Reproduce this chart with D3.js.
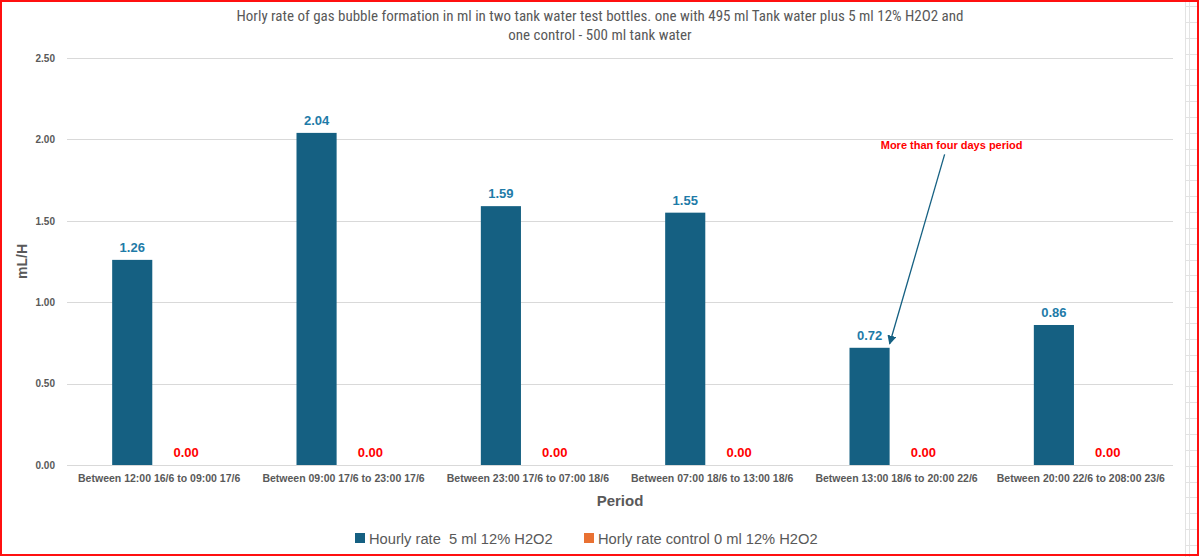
<!DOCTYPE html>
<html>
<head>
<meta charset="utf-8">
<script src="https://cdn.jsdelivr.net/npm/d3@7"></script>
<style>
  body { margin: 0; background: #fff; }
  svg { display: block; font-family: "Liberation Sans Narrow", "Roboto Condensed", "Liberation Sans", sans-serif; }
</style>
</head>
<body>
<div id="chart"></div>
<script>
/* chart data */
var periods = [
    "Between 12:00 16/6 to 09:00 17/6",
    "Between 09:00 17/6 to 23:00 17/6",
    "Between 23:00 17/6 to 07:00 18/6",
    "Between 07:00 18/6 to 13:00 18/6",
    "Between 13:00 18/6 to 20:00 22/6",
    "Between 20:00 22/6 to 208:00 23/6"
];
var seriesNames = ["Hourly rate  5 ml 12% H2O2", "Horly rate control 0 ml 12% H2O2"];
var treatedRate = [1.26, 2.04, 1.59, 1.55, 0.72, 0.86];
var controlRate = [0, 0, 0, 0, 0, 0];
var yTicks = [0, 0.5, 1, 1.5, 2, 2.5];

var W = 1200, H = 557;
var margin = {top: 58, right: 27, bottom: 92, left: 67};
var width = 1173 - margin.left,
    height = 465 - margin.top;

var colors = ["#156082", "#E97132"];

var svg = d3.select("#chart").append("svg")
    .attr("width", W)
    .attr("height", H);

// spreadsheet cells peeking out on the right
var cells = svg.append("g").attr("stroke", "#e3e3e3").attr("stroke-width", 1);
cells.append("line").attr("x1", 1185.5).attr("x2", 1185.5).attr("y1", 0).attr("y2", H);
cells.append("line").attr("x1", 1189.5).attr("x2", 1189.5).attr("y1", 0).attr("y2", H);
d3.range(6, H, 15.85).forEach(function(yy) {
    cells.append("line").attr("x1", 1186).attr("x2", 1198).attr("y1", Math.round(yy) + 0.5).attr("y2", Math.round(yy) + 0.5);
});

// title
var title = svg.append("text")
    .attr("text-anchor", "middle")
    .attr("fill", "#595959")
    .style("font-size", "15px");
title.append("tspan").attr("x", 600).attr("y", 21)
    .text("Horly rate of gas bubble formation in ml in two tank water test bottles. one with 495 ml Tank water plus 5 ml 12% H2O2 and");
title.append("tspan").attr("x", 600).attr("y", 40)
    .text("one control - 500 ml tank water");

var g = svg.append("g")
    .attr("transform", "translate(" + margin.left + "," + margin.top + ")");

var y = d3.scaleLinear().domain([0, 2.5]).range([height, 0]);
var x0 = d3.scaleBand().domain(periods).range([0, width]);
var x1 = d3.scaleBand().domain([0, 1]).range([x0.bandwidth() / 2 - 47, x0.bandwidth() / 2 + 47]).paddingInner(12 / 94 * 2);

// gridlines
g.append("g")
    .selectAll("line")
    .data(yTicks)
    .enter().append("line")
    .attr("x1", 0).attr("x2", width)
    .attr("y1", function(d) { return Math.round(y(d)) + 0.5; })
    .attr("y2", function(d) { return Math.round(y(d)) + 0.5; })
    .attr("stroke", "#d9d9d9")
    .attr("stroke-width", 1);

// y axis labels
var yAxis = d3.axisLeft(y).tickValues(yTicks).tickSize(0).tickPadding(12).tickFormat(d3.format(".2f"));
var gy = g.append("g").call(yAxis);
gy.select(".domain").remove();
gy.selectAll("text")
    .attr("fill", "#595959")
    .style("font-size", "10px")
    .style("font-weight", "bold")
    .style("font-family", "'Liberation Sans', sans-serif");

// x axis labels
var xAxis = d3.axisBottom(x0).tickSize(0).tickPadding(10);
var gx = g.append("g").attr("transform", "translate(0," + height + ")").call(xAxis);
gx.select(".domain").remove();
gx.selectAll("text")
    .attr("fill", "#595959")
    .style("font-size", "10.5px")
    .style("font-weight", "bold");

// bars
var rows = periods.map(function(p, i) { return {period: p, vals: [treatedRate[i], controlRate[i]]}; });
var groups = g.selectAll(".grp")
    .data(rows)
    .enter().append("g")
    .attr("class", "grp")
    .attr("transform", function(d) { return "translate(" + x0(d.period) + ",0)"; });

groups.selectAll("rect")
    .data(function(d) { return d.vals.map(function(v, s) { return {s: s, v: v}; }); })
    .enter().append("rect")
    .attr("x", function(d) { return x1(d.s); })
    .attr("width", x1.bandwidth())
    .attr("y", function(d) { return y(d.v); })
    .attr("height", function(d) { return height - y(d.v); })
    .attr("fill", function(d) { return colors[d.s]; });

groups.selectAll(".lbl")
    .data(function(d) { return d.vals.map(function(v, s) { return {s: s, v: v}; }); })
    .enter().append("text")
    .attr("class", "lbl")
    .attr("x", function(d) { return x1(d.s) + x1.bandwidth() / 2; })
    .attr("y", function(d) { return y(d.v) - 8; })
    .attr("text-anchor", "middle")
    .attr("fill", function(d) { return d.s === 0 ? "#1E7BA8" : "#FF0000"; })
    .style("font-size", "13px")
    .style("font-weight", "bold")
    .style("font-family", "'Liberation Sans', sans-serif")
    .text(function(d) { return d3.format(".2f")(d.v); });

// annotation with arrow
var defs = svg.append("defs");
defs.append("marker")
    .attr("id", "arrow")
    .attr("viewBox", "0 0 10 10")
    .attr("refX", 9).attr("refY", 5)
    .attr("markerWidth", 7).attr("markerHeight", 7)
    .attr("orient", "auto")
    .append("path")
    .attr("d", "M0,0 L10,5 L0,10 z")
    .attr("fill", "#156082");

var annIdx = 4;
var annX = x0(periods[annIdx]) + x1(0) + x1.bandwidth();
g.append("text")
    .attr("x", annX + 62)
    .attr("y", y(2.0) + 10)
    .attr("text-anchor", "middle")
    .attr("fill", "#FF0000")
    .style("font-size", "11px")
    .style("font-weight", "bold")
    .style("font-family", "'Liberation Sans', sans-serif")
    .text("More than four days period");
g.append("line")
    .attr("x1", annX + 55)
    .attr("y1", y(2.0) + 15)
    .attr("x2", annX)
    .attr("y2", y(treatedRate[annIdx]) - 4)
    .attr("stroke", "#156082")
    .attr("stroke-width", 1.3)
    .attr("marker-end", "url(#arrow)");

// axis titles
svg.append("text")
    .attr("transform", "translate(27," + (margin.top + height / 2) + ") rotate(-90)")
    .attr("text-anchor", "middle")
    .attr("fill", "#595959")
    .style("font-size", "14px")
    .style("font-weight", "bold")
    .style("font-family", "'Liberation Sans', sans-serif")
    .text("mL/H");
svg.append("text")
    .attr("x", 620)
    .attr("y", 506)
    .attr("text-anchor", "middle")
    .attr("fill", "#595959")
    .style("font-size", "15px")
    .style("font-weight", "bold")
    .style("font-family", "'Liberation Sans', sans-serif")
    .text("Period");

// legend
var legendX = [355, 584];
var legend = svg.selectAll(".leg")
    .data(seriesNames)
    .enter().append("g")
    .attr("class", "leg")
    .attr("transform", function(d, i) { return "translate(" + legendX[i] + ",538)"; });
legend.append("rect")
    .attr("x", 0).attr("y", -5)
    .attr("width", 10).attr("height", 10)
    .attr("fill", function(d, i) { return colors[i]; });
legend.append("text")
    .attr("x", 14).attr("y", 6)
    .attr("fill", "#595959")
    .style("white-space", "pre")
    .style("font-size", "14.7px")
    .style("font-family", "'Liberation Sans Narrow', 'Liberation Sans', sans-serif")
    .text(function(d) { return d; });

// red frame
svg.append("rect")
    .attr("x", 1).attr("y", 1)
    .attr("width", W - 3).attr("height", H - 3)
    .attr("fill", "none")
    .attr("stroke", "#FF1010")
    .attr("stroke-width", 2);
</script>
</body>
</html>
